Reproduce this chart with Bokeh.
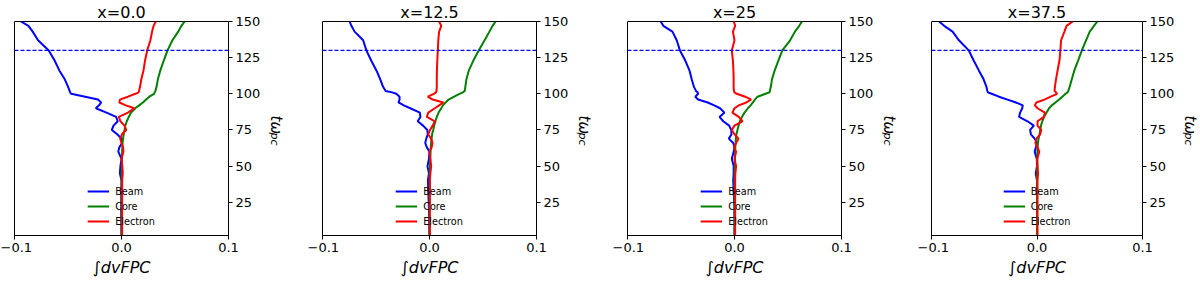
from bokeh.plotting import figure
from bokeh.layouts import row
from bokeh.models import Range1d, FixedTicker, Span, Legend, LegendItem, Title
from bokeh.embed import file_html
from bokeh.resources import INLINE

# time samples (t * omega_pc), top to bottom
T = [150, 147, 143, 137, 130, 123, 116, 110, 105, 102, 101, 100, 98, 96, 94, 92, 90,
     87, 84, 81, 78, 75, 72, 69, 66, 63, 60, 55, 50, 45, 40, 20, 2]

titles = ["x=0.0", "x=12.5", "x=25", "x=37.5"]
series_names = ["Beam", "Core", "Electron"]
series_colors = ["#0000ff", "#008000", "#ff0000"]
x_ticks = [-0.1, 0.0, 0.1]
x_tick_labels = ["\u22120.1", "0.0", "0.1"]
y_ticks = [25, 50, 75, 100, 125, 150]
t_marker = 130

beam_x0 = [-0.094, -0.087, -0.083, -0.078, -0.068, -0.0625, -0.058, -0.053, -0.050, -0.0485,
           -0.048, -0.047, -0.034, -0.022, -0.019, -0.021, -0.024, -0.014, -0.005, -0.0035,
           -0.0075, -0.009, -0.004, 0.0, 0.0005, -0.002, -0.003, 0.0, -0.001, -0.0015,
           0.0, -0.0003, 0.0]
core_x0 = [0.059, 0.056, 0.053, 0.0476, 0.043, 0.0395, 0.0362, 0.034, 0.0328, 0.0317,
           0.031, 0.0305, 0.026, 0.023, 0.020, 0.0165, 0.0128, 0.009, 0.0068, 0.005,
           0.0035, 0.0028, 0.002, 0.0015, 0.001, 0.0008, 0.0006, 0.0004, 0.0003, 0.0002,
           0.0001, 0.0, 0.0]
elec_x0 = [0.032, 0.030, 0.0286, 0.027, 0.024, 0.022, 0.0205, 0.0185, 0.0174, 0.0163,
           0.016, 0.013, 0.006, -0.0015, -0.002, 0.004, 0.012, 0.006, -0.0025, -0.001,
           0.0028, 0.0044, 0.0004, -0.0012, 0.0, 0.0015, 0.0018, 0.0, 0.0008, 0.0012,
           0.0006, 0.0006, 0.0006]

beam_x12 = [-0.0746, -0.073, -0.070, -0.062, -0.059, -0.0545, -0.0495, -0.046, -0.0435, -0.041,
            -0.035, -0.031, -0.028, -0.028, -0.029, -0.024, -0.018, -0.009, -0.0085, -0.011,
            -0.006, -0.002, -0.0016, -0.003, -0.004, -0.0025, 0.0, -0.0005, -0.0019, -0.0005,
            -0.0015, -0.0005, 0.0]
core_x12 = [0.0618, 0.059, 0.056, 0.0515, 0.046, 0.041, 0.0367, 0.0345, 0.0335, 0.033,
            0.031, 0.028, 0.023, 0.0179, 0.015, 0.0125, 0.011, 0.0085, 0.0068, 0.0055,
            0.0044, 0.0035, 0.0024, 0.002, 0.0015, 0.0012, 0.001, 0.0007, 0.0004, 0.0002,
            0.0001, 0.0, 0.0]
elec_x12 = [0.009, 0.011, 0.009, 0.0082, 0.0078, 0.0073, 0.0069, 0.0068, 0.0068, 0.0066,
            0.006, 0.004, -0.0016, 0.003, 0.013, 0.009, 0.005, -0.0012, -0.0025, 0.005,
            0.003, 0.0005, -0.0012, 0.0015, 0.0028, 0.002, 0.0, 0.0008, 0.0016, 0.0008,
            0.0004, 0.0003, 0.0003]

beam_x25 = [-0.069, -0.0665, -0.058, -0.054, -0.051, -0.046, -0.042, -0.040, -0.038, -0.036,
            -0.0345, -0.034, -0.0366, -0.034, -0.025, -0.019, -0.0135, -0.0094, -0.014, -0.0105,
            -0.005, -0.003, -0.0028, -0.0053, -0.0012, 0.0, -0.0008, -0.0025, -0.0008, -0.0008,
            -0.0012, 0.0, 0.0]
core_x25 = [0.063, 0.0605, 0.0565, 0.052, 0.0447, 0.041, 0.0375, 0.035, 0.034, 0.033,
            0.0328, 0.029, 0.0215, 0.019, 0.0172, 0.015, 0.0125, 0.0094, 0.007, 0.005,
            0.0038, 0.0028, 0.0018, 0.0013, 0.001, 0.0008, 0.0006, 0.0004, 0.0002, 0.0001,
            0.0, 0.0, 0.0]
elec_x25 = [-0.0006, 0.0006, -0.0015, 0.0, -0.0025, -0.0015, -0.001, -0.0008, -0.0008, -0.0006,
            0.0, 0.002, 0.010, 0.0155, 0.011, 0.004, 0.0, -0.002, 0.004, 0.0075,
            0.0, -0.0025, 0.0, 0.0038, 0.0015, -0.0006, 0.0015, 0.0, 0.0015, 0.0008,
            0.0006, 0.0006, 0.0006]

beam_x37 = [-0.0928, -0.088, -0.080, -0.074, -0.0647, -0.060, -0.055, -0.0506, -0.048, -0.047,
            -0.0466, -0.043, -0.036, -0.028, -0.020, -0.0135, -0.014, -0.016, -0.017, -0.009,
            -0.003, -0.0065, -0.0058, -0.0022, 0.0, -0.001, -0.0022, -0.0002, 0.0, -0.0012,
            0.0, 0.0, 0.0]
core_x37 = [0.0572, 0.054, 0.050, 0.0465, 0.0425, 0.039, 0.0353, 0.033, 0.031, 0.0297,
            0.029, 0.027, 0.024, 0.021, 0.0175, 0.014, 0.0115, 0.009, 0.0066, 0.005,
            0.0038, 0.0031, 0.0024, 0.0015, 0.0009, 0.0006, 0.0004, 0.0003, 0.0002, 0.0001,
            0.0, 0.0, 0.0]
elec_x37 = [0.0338, 0.028, 0.026, 0.0228, 0.0222, 0.0213, 0.0195, 0.018, 0.017, 0.0166,
            0.018, 0.019, 0.013, 0.007, -0.0006, -0.002, 0.0005, 0.0075, 0.0065, 0.0005,
            0.0005, 0.004, 0.003, -0.0005, -0.0015, 0.0005, 0.0022, 0.0002, 0.0005, 0.001,
            0.0005, 0.0005, 0.0005]

panels = [
    (beam_x0, core_x0, elec_x0),
    (beam_x12, core_x12, elec_x12),
    (beam_x25, core_x25, elec_x25),
    (beam_x37, core_x37, elec_x37),
]

FONT = "DejaVu Sans"
widths = [307, 305, 305, 283]
lefts = [14, 15, 15, 14]
rights = [79, 76, 76, 55]
HEIGHT = 284

figs = []
for i, (title, data) in enumerate(zip(titles, panels)):
    p = figure(width=widths[i], height=HEIGHT, output_backend="svg", toolbar_location=None,
               x_range=Range1d(-0.1, 0.1), y_range=Range1d(2, 150),
               y_axis_location="right", min_border_left=lefts[i], min_border_right=rights[i],
               min_border_top=17, min_border_bottom=49)
    p.title.text = title
    p.title.align = "center"
    p.title.text_font = FONT
    p.title.text_font_size = "16px"
    p.title.text_font_style = "normal"
    p.title.text_color = "black"
    p.title.standoff = 0
    p.title.offset = 0
    p.grid.visible = False
    p.outline_line_color = "black"
    p.outline_line_width = 1
    p.background_fill_color = "white"
    p.border_fill_color = "white"

    xa = p.xaxis[0]
    xa.ticker = FixedTicker(ticks=x_ticks, minor_ticks=[])
    xa.major_label_overrides = {v: s for v, s in zip(x_ticks, x_tick_labels)}
    xa.axis_label = "\u222bdvFPC"
    xa.axis_label_text_font = FONT
    xa.axis_label_text_font_size = "16px"
    xa.axis_label_text_font_style = "italic"
    xa.axis_label_text_color = "black"
    xa.axis_label_standoff = 3

    ya = p.yaxis[0]
    ya.ticker = FixedTicker(ticks=y_ticks, minor_ticks=[])

    for ax in (xa, ya):
        ax.major_label_text_font = FONT
        ax.major_label_text_font_size = "13px"
        ax.major_label_text_color = "black"
        ax.major_tick_out = 4
        ax.major_tick_in = 0
        ax.minor_tick_out = 0
        ax.minor_tick_in = 0
        ax.major_tick_line_color = "black"
        ax.axis_line_color = "black"
        ax.major_label_standoff = 3

    p.add_layout(Span(location=t_marker, dimension="width", line_color="#0000ff",
                      line_dash="4 2", line_width=1.3))

    items = []
    for name, color, xs in zip(series_names, series_colors, data):
        r = p.line(xs, T, line_color=color, line_width=2)
        items.append(LegendItem(label=name, renderers=[r]))

    leg = Legend(items=items, location="bottom_center", orientation="vertical",
                 border_line_alpha=0, background_fill_alpha=0,
                 label_text_font=FONT, label_text_font_size="9.7px",
                 label_text_color="black",
                 glyph_width=22, glyph_height=14, label_height=14, label_standoff=6,
                 spacing=1, padding=3, margin=4)
    p.add_layout(leg)

    # right-hand label t omega_pc : subscript first (closer to axis), then main symbol
    p.add_layout(Title(text="pc", align="left", offset=111, standoff=8,
                       text_font=FONT, text_font_size="11px", text_font_style="italic",
                       text_color="black"), "right")
    p.add_layout(Title(text="t\u03c9", align="left", offset=94, standoff=-40,
                       text_font=FONT, text_font_size="15px", text_font_style="italic",
                       text_color="black"), "right")
    figs.append(p)

layout = row(*figs, spacing=0)
open("out.html", "w").write(file_html(layout, INLINE))
